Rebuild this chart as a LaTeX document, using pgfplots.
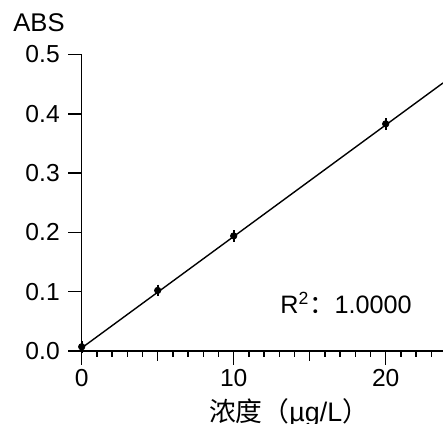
\documentclass[border=0pt]{standalone}
\usepackage{fontspec}
\setmainfont{Liberation Sans}
\newfontfamily\cjk{Noto Sans CJK SC}
\usepackage{pgfplots}
\pgfplotsset{compat=1.18}

\begin{document}
\fontsize{12pt}{14pt}\selectfont
\begin{tikzpicture}
\begin{axis}[
  scale only axis,
  width=180.65pt, height=148.2pt,
  xmin=0, xmax=23.77, ymin=0, ymax=0.5,
  axis lines=left,
  axis line style={line width=0.75pt,-},
  clip=false,
  tick align=outside,
  tick style={line width=0.75pt,black},
  xtick={0,10,20}, ytick={0,0.1,0.2,0.3,0.4,0.5},
  minor xtick={1,2,3,4,6,7,8,9,11,12,13,14,16,17,18,19,21,22,23},
  extra x ticks={5,15}, extra x tick labels={},
  extra x tick style={major tick length=4.8pt},
  major tick length=6.8pt, minor tick length=2.9pt,
  /pgf/number format/assume math mode=true,
  yticklabel style={/pgf/number format/fixed,/pgf/number format/fixed zerofill,/pgf/number format/precision=1,font=\fontsize{12.3pt}{14pt}\selectfont},
  xticklabel style={font=\fontsize{12.3pt}{14pt}\selectfont, yshift=-1pt, inner sep=1pt},
  scaled y ticks=false,
]
\addplot[black, line width=0.7pt] coordinates {(0,0.005) (23.77,0.452)};
\addplot[black, only marks, mark=*, mark size=1.6pt,
  error bars/.cd, y dir=both, y fixed=0.001,
  error bar style={line width=0.8pt},
  error mark options={mark size=2.6pt, line width=0.9pt}] coordinates {
  (0,0.007) (5,0.102) (10,0.194) (20,0.383)};
\node[anchor=center, font=\fontsize{12.8pt}{14pt}\selectfont] at (axis cs:-2.81,0.553) {ABS};
\node[anchor=west, inner sep=0pt, font=\fontsize{12.6pt}{14pt}\selectfont] at (axis cs:13.05,0.081) {R\textsuperscript{2}{\cjk ：}1.0000};
\node[anchor=center, inner sep=0pt, font=\fontsize{13.4pt}{15pt}\selectfont] at (axis cs:13.64,-0.104) {{\cjk 浓度（}µg/L{\cjk ）}};
\coordinate (bl) at (axis cs:-5.375,-0.123);
\coordinate (tr) at (axis cs:23.77,0.592);
\end{axis}
\pgfresetboundingbox
\useasboundingbox (bl) rectangle (tr);
\end{tikzpicture}
\end{document}
